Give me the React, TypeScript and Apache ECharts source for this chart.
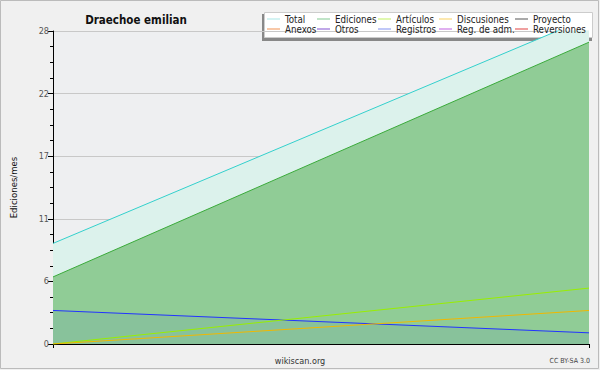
import React, { useEffect, useRef } from "react";
import * as echarts from "echarts";

const TITLE = "Draechoe emilian";
const Y_NAME = "Ediciones/mes";
const categories = ["mes 1", "mes 2"];
const total = [9.0, 29.2];
const ediciones = [6.0, 27.0];
const articulos = [0, 5.0];
const discusiones = [0, 3.0];
const registros = [3.0, 1.0];
const emptySeries: number[] = [];

const legendCols = [
  ["Total", "Anexos"],
  ["Ediciones", "Otros"],
  ["Artículos", "Registros"],
  ["Discusiones", "Reg. de adm."],
  ["Proyecto", "Reversiones"],
];
const legendColors: Record<string, string> = {
  Total: "#a8e6e6",
  Ediciones: "#80c890",
  "Artículos": "#c0f060",
  Discusiones: "#f8d060",
  Proyecto: "#555555",
  Anexos: "#f09050",
  Otros: "#8050d0",
  Registros: "#8090f0",
  "Reg. de adm.": "#c060e0",
  Reversiones: "#e04040",
};
const lineColors: Record<string, string> = {
  Total: "#33d0cc",
  Ediciones: "#3aaa3a",
  "Artículos": "#99ee00",
  Discusiones: "#f0b800",
  Proyecto: "#555555",
  Anexos: "#f09050",
  Otros: "#8050d0",
  Registros: "#2233ff",
  "Reg. de adm.": "#c060e0",
  Reversiones: "#e04040",
};

const FONT = "'DejaVu Sans Condensed', 'DejaVu Sans', sans-serif";

export default function App() {
  const ref = useRef<HTMLDivElement>(null);
  useEffect(() => {
    if (!ref.current) return;
    const chart = echarts.init(ref.current, null, { renderer: "svg" });
    const lineSeries = (name: string, data: number[], area?: string, z = 2) => ({
      name,
      type: "line",
      data,
      symbol: "none",
      z,
      lineStyle: { width: 1, color: lineColors[name] },
      itemStyle: { color: lineColors[name] },
      areaStyle: area ? { color: area, opacity: 1 } : undefined,
    });
    const legends = legendCols.map((col, i) => ({
      orient: "vertical",
      left: [267, 317, 378, 439, 515][i],
      top: 14,
      padding: 0,
      itemWidth: 13,
      itemHeight: 1,
      itemGap: 0,
      icon: "rect",
      selectedMode: false,
      textStyle: { fontFamily: FONT, fontSize: 9.7, lineHeight: 10, color: "#222" },
      data: col.map((n) => ({ name: n, itemStyle: { color: legendColors[n] } })),
    }));
    chart.setOption({
      animation: false,
      backgroundColor: "#f0f0f0",
      title: {
        text: TITLE,
        left: 131,
        top: 9,
        textAlign: "center",
        textStyle: { fontFamily: FONT, fontSize: 11.5, fontWeight: "bold", color: "#111" },
      },
      legend: legends,
      graphic: [
        { type: "rect", shape: { x: 0.5, y: 0.5, width: 598, height: 368 }, style: { fill: "none", stroke: "#bbb", lineWidth: 1 }, z: -1 },
        { type: "rect", shape: { x: 262, y: 14, width: 330, height: 27 }, style: { fill: "#888" }, z: 0 },
        { type: "rect", shape: { x: 264.5, y: 12.5, width: 328, height: 25 }, style: { fill: "#ffffff", stroke: "#ccc", lineWidth: 1 }, z: 0 },
        { type: "text", x: 300, y: 361, style: { text: "wikiscan.org", fontFamily: FONT, fontSize: 9, fill: "#333", align: "center", verticalAlign: "middle" } },
        { type: "text", x: 590, y: 361, style: { text: "CC BY-SA 3.0", fontFamily: FONT, fontSize: 7, fill: "#444", align: "right", verticalAlign: "middle" } },
      ],
      grid: { left: 46, right: 11, top: 31, bottom: 26, show: true, backgroundColor: "#eeeff1", borderWidth: 0 },
      xAxis: {
        type: "category",
        data: categories,
        boundaryGap: false,
        axisLine: { lineStyle: { color: "#000", width: 1 } },
        axisTick: { show: true, length: 4, lineStyle: { color: "#000" } },
        axisLabel: { show: false },
        splitLine: { show: false },
      },
      yAxis: {
        type: "value",
        min: 0,
        max: 28,
        interval: 5.6,
        name: Y_NAME,
        nameLocation: "middle",
        nameRotate: 90,
        nameGap: 35,
        nameTextStyle: { fontFamily: FONT, fontSize: 9.5, color: "#111" },
        axisLine: { show: true, lineStyle: { color: "#000", width: 1 } },
        axisTick: { show: true, length: 5, lineStyle: { color: "#000" } },
        minorTick: { show: true, splitNumber: 4, length: 3, lineStyle: { color: "#000" } },
        axisLabel: {
          fontFamily: FONT,
          fontSize: 9,
          color: "#555",
          margin: 4,
          formatter: (v: number) => String(Math.round(v)),
        },
        splitLine: { show: true, lineStyle: { color: "#c8c8c8", width: 1 } },
      },
      series: [
        lineSeries("Total", total, "#dcf2ec", 2),
        lineSeries("Ediciones", ediciones, "#90cc96", 3),
        lineSeries("Artículos", articulos, undefined, 6),
        lineSeries("Discusiones", discusiones, undefined, 6),
        lineSeries("Proyecto", emptySeries),
        lineSeries("Anexos", emptySeries),
        lineSeries("Otros", emptySeries),
        {
          ...lineSeries("Registros", registros, undefined, 5),
          areaStyle: { color: "rgba(0,40,255,0.08)" },
        },
        lineSeries("Reg. de adm.", emptySeries),
        lineSeries("Reversiones", emptySeries),
      ],
    });
    return () => chart.dispose();
  }, []);
  return <div ref={ref} style={{ position: "fixed", left: 0, top: 0, width: 600, height: 370 }} />;
}
